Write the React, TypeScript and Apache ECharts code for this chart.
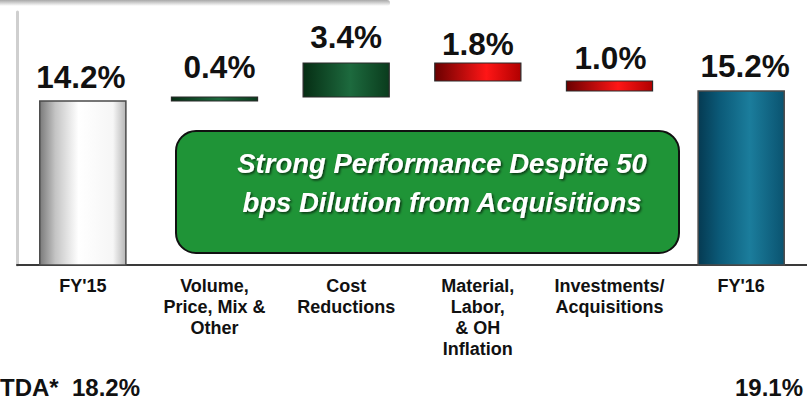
import React, { useEffect, useRef } from "react";
import * as echarts from "echarts";

const categories = [
  "FY'15",
  "Volume,\nPrice, Mix &\nOther",
  "Cost\nReductions",
  "Material,\nLabor,\n& OH\nInflation",
  "Investments/\nAcquisitions",
  "FY'16",
];
// margin % : totals and changes (waterfall)
const barValues = [14.2, 0.4, 3.4, -1.8, -1.0, 15.2];
const barKinds = ["total", "up", "up", "down", "down", "total"];
const barLabels = ["14.2%", "0.4%", "3.4%", "1.8%", "1.0%", "15.2%"];
const bottomLeftText = "TDA*  18.2%";
const bottomRightText = "19.1%";
const calloutLines = ["Strong Performance Despite 50", "bps Dilution from Acquisitions"];

const Y_MIN = -2.2;
const Y_MAX = 23.1;

// style-only arrays
const labelGap = [14, 20, 16, 9, 13, 15];
const labelDx = [-2, 5, 0, 0, 1, 4];

const FONT = '"Liberation Sans", Arial, Helvetica, sans-serif';

function fillFor(i: number) {
  const k = barKinds[i];
  if (k === "total" && i === 0) {
    return new echarts.graphic.LinearGradient(0, 0, 1, 0, [
      { offset: 0, color: "#7a7a7a" },
      { offset: 0.18, color: "#c4c4c4" },
      { offset: 0.45, color: "#ffffff" },
      { offset: 0.85, color: "#f6f6f6" },
      { offset: 1, color: "#b5b5b5" },
    ]);
  }
  if (k === "total") {
    return new echarts.graphic.LinearGradient(0, 0, 1, 0, [
      { offset: 0, color: "#053a52" },
      { offset: 0.25, color: "#0b5a78" },
      { offset: 0.6, color: "#1b7d9c" },
      { offset: 1, color: "#0a5370" },
    ]);
  }
  if (k === "up") {
    return new echarts.graphic.LinearGradient(0, 0, 1, 0, [
      { offset: 0, color: "#062e14" },
      { offset: 0.55, color: "#1d6a3e" },
      { offset: 1, color: "#0a3c1d" },
    ]);
  }
  return new echarts.graphic.LinearGradient(0, 0, 1, 0, [
    { offset: 0, color: "#6a0000" },
    { offset: 0.6, color: "#ff1616" },
    { offset: 1, color: "#b00000" },
  ]);
}

function buildData() {
  const out: number[][] = [];
  let running = 0;
  barValues.forEach((v, i) => {
    if (barKinds[i] === "total") {
      out.push([i, Y_MIN, v]);
      running = v;
    } else {
      const a = running;
      const b = running + v;
      out.push([i, Math.min(a, b), Math.max(a, b)]);
      running = b;
    }
  });
  return out;
}

export default function App() {
  const ref = useRef<HTMLDivElement>(null);
  useEffect(() => {
    if (!ref.current) return;
    const chart = echarts.init(ref.current, undefined, { renderer: "svg" });
    const option: any = {
      animation: false,
      backgroundColor: "#ffffff",
      grid: { left: 17, top: 12, width: 807, height: 253, containLabel: false },
      xAxis: {
        type: "category",
        data: categories,
        axisLine: { show: true, onZero: false, lineStyle: { color: "#3a3a3a", width: 2 } },
        axisTick: { show: false },
        axisLabel: {
          interval: 0,
          color: "#111111",
          fontFamily: FONT,
          fontWeight: "bold",
          fontSize: 18,
          lineHeight: 21,
          margin: 10,
          align: "center",
        },
        splitLine: { show: false },
      },
      yAxis: {
        type: "value",
        min: Y_MIN,
        max: Y_MAX,
        axisLine: { show: true, lineStyle: { color: "#cfcfcf", width: 3 } },
        axisTick: { show: false },
        axisLabel: { show: false },
        splitLine: { show: false },
      },
      series: [
        {
          type: "custom",
          data: buildData(),
          encode: { x: 0, y: [1, 2] },
          renderItem: (params: any, api: any) => {
            const i = api.value(0);
            const low = api.value(1);
            const high = api.value(2);
            const pTop = api.coord([i, high]);
            const pBot = api.coord([i, low]);
            const w = api.size([1, 0])[0] * 0.654;
            const x = pTop[0] - w / 2;
            const total = barKinds[i] === "total";
            return {
              type: "group",
              children: [
                {
                  type: "rect",
                  shape: { x, y: pTop[1], width: w, height: pBot[1] - pTop[1] },
                  style: {
                    fill: fillFor(i),
                    stroke: total ? "#4a4a4a" : "#2a2a2a",
                    lineWidth: total ? 1.5 : 1.2,
                  },
                },
                {
                  type: "text",
                  x: pTop[0] + labelDx[i],
                  y: pTop[1] - labelGap[i] + 6,
                  style: {
                    text: barLabels[i],
                    fill: "#111111",
                    fontFamily: FONT,
                    fontWeight: "bold",
                    fontSize: 31.5,
                    align: "center",
                    verticalAlign: "bottom",
                    textAlign: "center",
                    textVerticalAlign: "bottom",
                  },
                },
              ],
            };
          },
        },
      ],
      graphic: [
        {
          type: "rect",
          left: 0,
          top: 0,
          shape: { width: 390, height: 6, r: [0, 3, 3, 0] },
          style: {
            fill: new echarts.graphic.LinearGradient(0, 0, 0, 1, [
              { offset: 0, color: "#a8a8a8" },
              { offset: 1, color: "#ffffff" },
            ]),
          },
          silent: true,
        },
        {
          type: "group",
          left: 175,
          top: 130,
          children: [
            {
              type: "rect",
              shape: { x: 0, y: 0, width: 503, height: 122, r: 20 },
              style: { fill: "#1f9437", stroke: "#111111", lineWidth: 2 },
            },
            {
              type: "text",
              x: 266,
              y: 52,
              style: {
                text: calloutLines.join("\n"),
                fill: "#ffffff",
                fontFamily: FONT,
                fontWeight: "bold",
                fontStyle: "italic",
                fontSize: 27.5,
                lineHeight: 39,
                align: "center",
                verticalAlign: "middle",
                textAlign: "center",
                textVerticalAlign: "middle",
                textShadowColor: "rgba(0,0,0,0.65)",
                textShadowBlur: 2,
                textShadowOffsetX: 1.5,
                textShadowOffsetY: 1.5,
              },
            },
          ],
        },
        {
          type: "text",
          left: 0,
          bottom: 1,
          style: {
            text: bottomLeftText,
            fill: "#111111",
            fontFamily: FONT,
            fontWeight: "bold",
            fontSize: 24,
          },
        },
        {
          type: "text",
          right: 4,
          bottom: 1,
          style: {
            text: bottomRightText,
            fill: "#111111",
            fontFamily: FONT,
            fontWeight: "bold",
            fontSize: 24,
          },
        },
      ],
    };
    chart.setOption(option);
    return () => chart.dispose();
  }, []);
  return (
    <div
      ref={ref}
      style={{ position: "fixed", left: 0, top: 0, width: 807, height: 400, background: "#fff" }}
    />
  );
}
